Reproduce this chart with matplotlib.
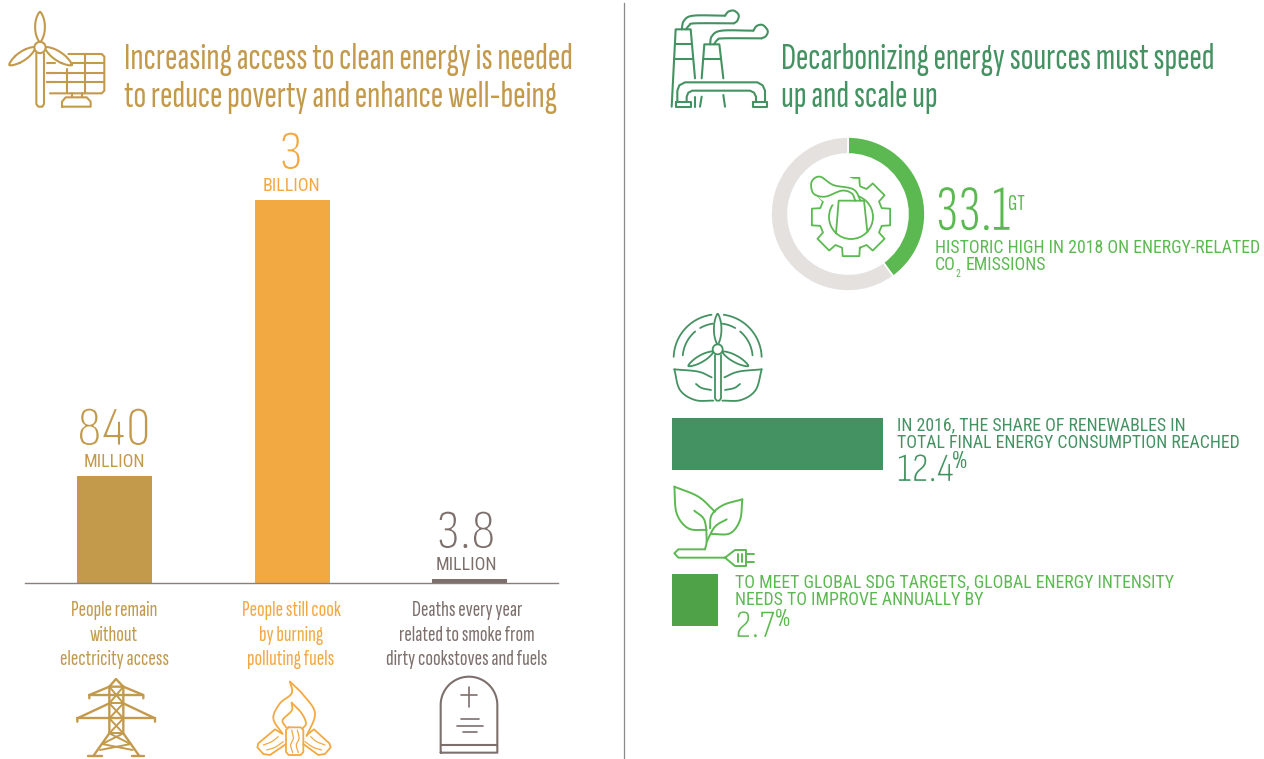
import numpy as np
import matplotlib

matplotlib.use("Agg")
import matplotlib.pyplot as plt
import matplotlib.patheffects as pe
from matplotlib import font_manager as fm
from matplotlib.patches import Circle, Ellipse

W, H = 1264, 759
TAN = "#c39a4c"
ORANGE = "#f3a941"
GREY = "#7d706c"
DARK_GREEN = "#449262"
GREEN = "#5cb951"
MID_GREEN = "#4fa248"
RING = "#e4e1df"

# left panel
left_categories = ["People remain\nwithout\nelectricity access",
                   "People still cook\nby burning\npolluting fuels",
                   "Deaths every year\nrelated to smoke from\ndirty cookstoves and fuels"]
left_values = [840, 3000, 30]  # millions; last one is only a sliver in the original
left_numbers = ["840", "3", "3.8"]
left_units = ["MILLION", "BILLION", "MILLION"]
left_colors = [TAN, ORANGE, GREY]

# right panel
donut_share = [40, 60]
renew_values = [12.4, 2.7]

# the original uses a very condensed face; shrink if these are not installed
installed = {f.name for f in fm.fontManager.ttflist}


def face(name, fallback_scale):
    if name in installed:
        return name, 1
    return "Liberation Sans", fallback_scale


HEAD, HEAD_K = face("Sofia Sans Extra Condensed", 0.62)
CAPS, CAPS_K = face("Roboto Condensed", 0.85)
FIGS, FIGS_K = face("Sofia Sans Condensed", 0.75)
plt.rcParams["font.family"] = [HEAD, "DejaVu Sans"]

fig = plt.figure(figsize=(W / 100, H / 100), dpi=100)
bg = fig.add_axes([0, 0, 1, 1])
bg.set_xlim(0, W)
bg.set_ylim(H, 0)
bg.axis("off")


def box(x0, y0, x1, y1):
    return [x0 / W, 1 - y1 / H, (x1 - x0) / W, (y1 - y0) / H]


def txt(x, y, s, color, size, ha="left"):
    bg.text(x, y, s, color=color, fontsize=size * HEAD_K, ha=ha, va="center")


def cap(x, y, s, color, size, ha="left"):
    bg.text(x, y, s, color=color, fontsize=size * CAPS_K, ha=ha, va="center",
            family=[CAPS, "DejaVu Sans"])


def num(x, y, s, color, size, ha="left", family=FIGS, k=FIGS_K, thin=1.0):
    # big light figures: a white outline thins the regular weight
    bg.text(x, y, s, color=color, fontsize=size * k, ha=ha, va="center",
            family=[family, "DejaVu Sans"],
            path_effects=[pe.Normal(), pe.Stroke(linewidth=thin, foreground="white")])


def spline(pts, closed=False, n=14):
    # catmull-rom through the points
    p = np.array(pts, float)
    if closed:
        p = np.vstack([p[-1], p, p[0], p[1]])
    else:
        p = np.vstack([2 * p[0] - p[1], p, 2 * p[-1] - p[-2]])
    out = []
    t = np.linspace(0, 1, n)[:, None]
    for i in range(1, len(p) - 2):
        a, b, c, d = p[i - 1], p[i], p[i + 1], p[i + 2]
        out.append(0.5 * (2 * b + (c - a) * t + (2 * a - 5 * b + 4 * c - d) * t ** 2
                          + (3 * b - a - 3 * c + d) * t ** 3))
    return np.vstack(out)


def stroke(ox, oy, pts, color, lw=1.5, smooth=False, closed=False):
    # icon points are in 3x zoom units from (ox, oy)
    p = spline(pts, closed) if smooth else np.array(pts, float)
    if closed and not smooth:
        p = np.vstack([p, p[0]])
    bg.plot(ox + p[:, 0] / 3, oy + p[:, 1] / 3, color=color, lw=lw,
            solid_capstyle="round", solid_joinstyle="round")


def blade(ox, oy, x0, y0, x1, y1, half, color, lw=1.5):
    # closed leaf shape between two ends
    d = np.array([x1 - x0, y1 - y0], float)
    nrm = np.array([-d[1], d[0]]) / np.hypot(*d) * half
    s = np.array([x0, y0], float)
    pts = [s, s + .3 * d + nrm, s + .7 * d + nrm, s + d, s + .7 * d - nrm, s + .3 * d - nrm]
    stroke(ox, oy, pts, color, lw, smooth=True, closed=True)


# divider
bg.plot([623.5, 623.5], [3, 758], color="#8a8a8a", lw=0.9)

# titles
txt(124, 60, "Increasing access to clean energy is needed", TAN, 27.2)
txt(124, 98, "to reduce poverty and enhance well-being", TAN, 27.2)
txt(781, 60, "Decarbonizing energy sources must speed", DARK_GREEN, 27.2)
txt(781, 98, "up and scale up", DARK_GREEN, 27.2)

# left bars
bars = fig.add_axes(box(25, 200, 558, 583), facecolor="none")
xpos = np.arange(3)
bars.bar(xpos, left_values, width=75 / 177.5, color=left_colors)
bars.set_xlim((25 - 114.5) / 177.5, (558 - 114.5) / 177.5)
bars.set_ylim(0, 3000)
bars.spines[["top", "right", "left"]].set_visible(False)
bars.spines["bottom"].set_color("#8a8078")
bars.spines["bottom"].set_linewidth(1)
bars.set_xticks([])
bars.set_yticks([])

num_xy = [(114, 431), (291, 155), (466, 534)]
unit_xy = [(114, 462), (291, 186), (466, 565)]
for i in range(3):
    num(num_xy[i][0], num_xy[i][1], left_numbers[i], left_colors[i], 41, ha="center", thin=1.3)
    cap(unit_xy[i][0], unit_xy[i][1], left_units[i], left_colors[i], 13, ha="center")
    lines = left_categories[i].split("\n")
    cx = [114, 291, 467][i]
    for j, s in enumerate(lines):
        txt(cx, 611 + j * 24.3, s, left_colors[i], 16.2, ha="center")

# right bars
hbars = fig.add_axes(box(672, 418, 883, 626), facecolor="none")
hbars.barh([0, 1], renew_values, height=1 / 3, color=[DARK_GREEN, MID_GREEN])
hbars.set_xlim(0, 12.4)
hbars.set_ylim(1 + 1 / 6, -1 / 6)
hbars.axis("off")

# donut
donut = fig.add_axes(box(771, 137, 925, 291), facecolor="none")
donut.pie(donut_share, colors=[GREEN, RING], startangle=90, counterclock=False, radius=1,
          wedgeprops=dict(width=17 / 77, edgecolor="white", linewidth=1.2))
donut.set_xlim(-1, 1)
donut.set_ylim(-1, 1)

num(936, 214, "33.1", GREEN, 48, family=HEAD, k=HEAD_K, thin=1.0)
txt(1008, 205, "GT", GREEN, 16.5)
cap(935, 248, "HISTORIC HIGH IN 2018 ON ENERGY-RELATED", GREEN, 12.8)
cap(935, 265, "CO", GREEN, 12.8)
cap(956, 274, "2", GREEN, 7)
cap(966, 265, "EMISSIONS", GREEN, 12.8)

cap(897, 425, "IN 2016, THE SHARE OF RENEWABLES IN", DARK_GREEN, 12.8)
cap(897, 443, "TOTAL FINAL ENERGY CONSUMPTION REACHED", DARK_GREEN, 12.8)
num(897, 471, "12.4", DARK_GREEN, 30, thin=0.9)
txt(952, 462, "%", DARK_GREEN, 19)

cap(735, 582, "TO MEET GLOBAL SDG TARGETS, GLOBAL ENERGY INTENSITY", GREEN, 12.8)
cap(735, 600, "NEEDS TO IMPROVE ANNUALLY BY", GREEN, 12.8)
num(735, 627, "2.7", GREEN, 29, thin=0.9)
txt(775, 619, "%", GREEN, 19)

# wind turbine + solar panel
c = TAN
blade(0, 0, 120, 36, 120, 126, 13, c)
blade(0, 0, 106, 142, 28, 195, 12, c)
blade(0, 0, 135, 142, 215, 195, 12, c)
bg.add_patch(Circle((40, 47.5), 5.6, fc="white", ec=c, lw=1.5, zorder=3))
stroke(0, 0, [(109, 160), (109, 312), (115, 320), (127, 320), (132, 312), (132, 160)], c)
stroke(0, 0, [(205, 162), (305, 162), (313, 170), (313, 272), (305, 280), (150, 280)], c)
for yy in (190, 220, 247):
    stroke(0, 0, [(140, yy), (164, yy)], c)
    stroke(0, 0, [(212, yy) if yy == 190 else (140, yy), (313, yy)], c)
stroke(0, 0, [(200, 207), (200, 280)], c)
stroke(0, 0, [(255, 162), (255, 280)], c)
stroke(0, 0, [(215, 280), (215, 292)], c)
stroke(0, 0, [(245, 280), (245, 292)], c)
stroke(0, 0, [(186, 320), (186, 305), (197, 292), (260, 292), (272, 305), (272, 320), (186, 320)], c)

# factory
c = DARK_GREEN
ox, oy = 660, 0
stroke(ox, oy, [(35, 320), (47, 88), (92, 88), (105, 235)], c)
stroke(ox, oy, [(44, 132), (97, 132)], c)
stroke(ox, oy, [(41, 177), (100, 177)], c)
stroke(ox, oy, [(125, 235), (133, 133), (178, 133), (190, 235)], c)
stroke(ox, oy, [(129, 178), (184, 178)], c)
stroke(ox, oy, [(65, 88), (72, 62), (100, 47), (195, 47)], c, smooth=True)
stroke(ox, oy, [(195, 47), (205, 35), (222, 32), (236, 45), (232, 62), (222, 70)], c, smooth=True)
stroke(ox, oy, [(222, 70), (105, 70), (88, 76), (78, 88)], c, smooth=True)
stroke(ox, oy, [(150, 133), (156, 108), (185, 92), (280, 92)], c, smooth=True)
stroke(ox, oy, [(280, 92), (290, 78), (308, 75), (323, 92), (318, 108), (305, 115)], c, smooth=True)
stroke(ox, oy, [(305, 115), (190, 115), (172, 120), (162, 133)], c, smooth=True)
stroke(ox, oy, [(52, 305), (52, 272), (58, 256), (75, 247), (292, 247), (308, 256), (315, 272), (315, 305)], c)
stroke(ox, oy, [(80, 305), (80, 290), (85, 278), (97, 272), (270, 272), (282, 278), (288, 290), (288, 305)], c)
stroke(ox, oy, [(48, 305), (92, 305), (92, 320), (48, 320)], c, closed=True)
stroke(ox, oy, [(280, 305), (322, 305), (322, 320), (280, 320)], c, closed=True)
stroke(ox, oy, [(105, 290), (105, 320)], c)
stroke(ox, oy, [(125, 290), (120, 320)], c)
stroke(ox, oy, [(190, 285), (195, 320)], c)

# gear inside the donut
c = GREEN
ang = np.linspace(0, 2 * np.pi, 8, endpoint=False)
gx, gy = 851, 217
pts = []
for a in ang:
    for da, r in ((-.28, 32), (-.21, 40), (.21, 40), (.28, 32)):
        pts.append((gx + r * np.cos(a + da + np.pi / 2), gy + r * np.sin(a + da + np.pi / 2)))
pts = np.array(pts + pts[:1])
bg.plot(pts[:, 0], pts[:, 1], color=c, lw=1.3)
bg.add_patch(Circle((gx, gy), 22, fc="none", ec=c, lw=1.3))
ox, oy = 770, 130
bg.add_patch(Ellipse((838, 190), 44, 30, fc="white", ec="none", zorder=2.5))
bg.add_patch(Ellipse((851, 205), 26, 20, fc="white", ec="none", zorder=2.5))
p = spline([(272, 212), (250, 178), (190, 165), (150, 140), (125, 155), (130, 190),
            (165, 200), (215, 182), (245, 190), (256, 212)])
bg.plot(ox + p[:, 0] / 3, oy + p[:, 1] / 3, color=c, lw=1.3, zorder=3)
bg.plot(ox + np.array([198, 206, 282, 292]) / 3, oy + np.array([310, 212, 212, 305]) / 3,
        color=c, lw=1.3, zorder=3)

# wind turbine with leaves
c = DARK_GREEN
ox, oy = 665, 310
blade(ox, oy, 158, 12, 158, 103, 10, c, 1.3)
blade(ox, oy, 145, 125, 70, 168, 9, c, 1.3)
blade(ox, oy, 172, 125, 250, 168, 9, c, 1.3)
bg.add_patch(Circle((665 + 158 / 3, 310 + 118 / 3), 5, fc="white", ec=c, lw=1.3, zorder=3))
stroke(ox, oy, [(150, 135), (150, 265), (155, 272), (163, 272), (168, 265), (168, 135)], c, 1.3)


def arc(r, a0, a1):
    t = np.radians(np.linspace(a0, a1, 30))
    return list(zip(158 + r * np.sin(t), 145 - r * np.cos(t)))


for r, spans in ((132, [(-88, -8), (8, 88)]),
                 (105, [(-30, -8), (8, 30), (-85, -40), (40, 85)])):
    for a0, a1 in spans:
        stroke(ox, oy, arc(r, a0, a1), c, 1.3)
stroke(ox, oy, [(28, 178), (100, 185), (140, 202)], c, 1.3, smooth=True)
stroke(ox, oy, [(28, 178), (45, 240), (90, 270), (145, 272)], c, 1.3, smooth=True)
stroke(ox, oy, [(290, 178), (220, 185), (178, 202)], c, 1.3, smooth=True)
stroke(ox, oy, [(290, 178), (272, 240), (228, 270), (172, 272)], c, 1.3, smooth=True)
stroke(ox, oy, [(93, 222), (110, 234), (138, 240)], c, 1.3, smooth=True)
stroke(ox, oy, [(225, 222), (208, 234), (180, 240)], c, 1.3, smooth=True)

# leaves + plug
c = GREEN
stroke(ox, oy, [(28, 530), (100, 560), (150, 605)], c, 1.4, smooth=True)
stroke(ox, oy, [(28, 530), (35, 610), (70, 655), (125, 660)], c, 1.4, smooth=True)
stroke(ox, oy, [(232, 568), (175, 585), (140, 615), (135, 655)], c, 1.4, smooth=True)
stroke(ox, oy, [(232, 568), (225, 630), (195, 670), (140, 672)], c, 1.4, smooth=True)
stroke(ox, oy, [(88, 602), (118, 630), (125, 690), (120, 718)], c, 1.4, smooth=True)
stroke(ox, oy, [(185, 628), (150, 650), (125, 695)], c, 1.4, smooth=True)
stroke(ox, oy, [(120, 718), (40, 718), (28, 730), (40, 743), (180, 743)], c, 1.4)
stroke(ox, oy, [(180, 743), (210, 720), (243, 720), (243, 768), (210, 768)], c, 1.4, closed=True)
stroke(ox, oy, [(243, 731), (268, 731)], c, 1.4)
stroke(ox, oy, [(243, 757), (268, 757)], c, 1.4)
stroke(ox, oy, [(218, 732), (218, 757)], c, 1.4)
stroke(ox, oy, [(230, 732), (230, 757)], c, 1.4)

# pylon
c = TAN
ox, oy = 60, 670
stroke(ox, oy, [(148, 50), (148, 190), (100, 258)], c, 1.7)
stroke(ox, oy, [(190, 50), (190, 190), (238, 258)], c, 1.7)
stroke(ox, oy, [(148, 50), (168, 27), (190, 50), (148, 50)], c, 1.7)
for y0, y1 in ((50, 100), (100, 145), (145, 190)):
    stroke(ox, oy, [(148, y0), (190, y1)], c, 1.4)
    stroke(ox, oy, [(190, y0), (148, y1)], c, 1.4)
    stroke(ox, oy, [(148, y1), (190, y1)], c, 1.4)
stroke(ox, oy, [(88, 85), (88, 75), (148, 50)], c, 1.7)
stroke(ox, oy, [(88, 75), (250, 75)], c, 1.7)
stroke(ox, oy, [(250, 85), (250, 75), (190, 50)], c, 1.7)
stroke(ox, oy, [(52, 155), (52, 145), (148, 100)], c, 1.7)
stroke(ox, oy, [(52, 145), (285, 145)], c, 1.7)
stroke(ox, oy, [(285, 155), (285, 145), (190, 100)], c, 1.7)
stroke(ox, oy, [(148, 190), (212, 222), (120, 240)], c, 1.4)
stroke(ox, oy, [(190, 190), (126, 222), (218, 240)], c, 1.4)
stroke(ox, oy, [(85, 259), (125, 259)], c, 1.7)
stroke(ox, oy, [(215, 259), (252, 259)], c, 1.7)

# campfire
c = ORANGE
stroke(ox, oy, [(690, 35), (695, 70), (660, 100), (640, 145), (668, 192)], c, 1.3, smooth=True)
stroke(ox, oy, [(690, 35), (730, 75), (765, 130), (740, 198)], c, 1.3, smooth=True)
stroke(ox, oy, [(695, 98), (695, 122), (668, 150), (678, 172)], c, 1.3, smooth=True)
stroke(ox, oy, [(695, 98), (725, 130), (738, 160), (728, 175)], c, 1.3, smooth=True)
stroke(ox, oy, [(685, 172), (722, 172), (730, 180), (730, 246), (722, 255), (686, 255),
                (678, 246), (678, 180), (685, 172)], c, 1.3)
stroke(ox, oy, [(678, 222), (630, 255), (610, 252), (592, 232), (595, 220), (645, 178), (665, 190)], c, 1.3)
stroke(ox, oy, [(730, 222), (775, 255), (795, 252), (812, 232), (808, 220), (762, 178), (740, 195)], c, 1.3)
for xs in (695, 712):
    stroke(ox, oy, [(xs, 180), (xs + 5, 205), (xs - 3, 225), (xs + 3, 248)], c, 0.9, smooth=True)
stroke(ox, oy, [(610, 225), (635, 215), (655, 200)], c, 0.9, smooth=True)
stroke(ox, oy, [(620, 240), (645, 232), (670, 215)], c, 0.9, smooth=True)
stroke(ox, oy, [(795, 225), (770, 215), (752, 200)], c, 0.9, smooth=True)
stroke(ox, oy, [(785, 240), (760, 232), (735, 215)], c, 0.9, smooth=True)

# gravestone
c = GREY
t = np.radians(np.linspace(180, 0, 40))
top = list(zip(1227 + 85 * np.cos(t), 105 - 85 * np.sin(t)))
stroke(ox, oy, [(1142, 248)] + top + [(1312, 248), (1142, 248)], c, 1.5)
stroke(ox, oy, [(1142, 226), (1312, 226)], c, 1.5)
stroke(ox, oy, [(1228, 52), (1228, 110)], c, 1.2)
stroke(ox, oy, [(1204, 75), (1252, 75)], c, 1.2)
stroke(ox, oy, [(1203, 147), (1258, 147)], c, 1.2)
stroke(ox, oy, [(1190, 167), (1270, 167)], c, 1.2)
stroke(ox, oy, [(1210, 186), (1250, 186)], c, 1.2)

fig.savefig("out.png", dpi=100, facecolor="white")
